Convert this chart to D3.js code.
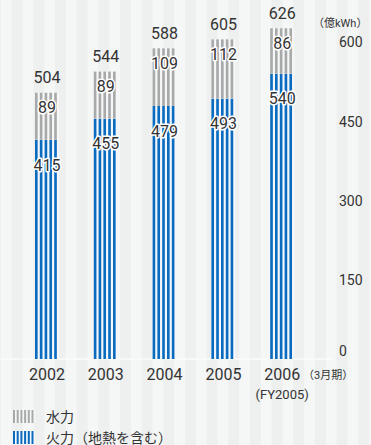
<!DOCTYPE html>
<html>
<head>
<meta charset="utf-8">
<script src="https://cdn.jsdelivr.net/npm/d3@7"></script>
<style>
  html, body { margin: 0; padding: 0; background: #f5f6f6; }
  svg { display: block; }
  text { font-family: Roboto, "Noto Sans CJK JP", sans-serif; fill: #333; }
</style>
</head>
<body>
<svg id="chart" width="371" height="445"></svg>
<script>
// Generated electricity by source, fiscal years (unit: 100 million kWh)
const years = ["2002", "2003", "2004", "2005", "2006"];
const thermal = [415, 455, 479, 493, 540];   // 火力（地熱を含む）
const hydro = [89, 89, 109, 112, 86];        // 水力
const totals = [504, 544, 588, 605, 626];
const yTicks = [0, 150, 300, 450, 600];
const unitLabel = "（億kWh）";
const periodLabel = "（3月期）";
const fyNote = "(FY2005)";
const legendLabels = ["水力", "火力（地熱を含む）"];

const W = 371, H = 445;
const svg = d3.select("#chart");

const BLUE = "#0a6bbf";
const GRAY = "#a7a9aa";

// soft vertical banding in the backdrop
const bandW = 10.83;
const bandStarts = d3.range(11.7 - 2 * bandW, W, 2 * bandW);
svg.append("g").selectAll("rect").data(bandStarts).join("rect")
  .attr("x", d => d).attr("y", 0)
  .attr("width", bandW).attr("height", H)
  .attr("fill", "#eeefef");

const x = d3.scalePoint().domain(years).range([47, 282.2]);
const y = d3.scaleLinear().domain([0, 600]).range([359, 42]);
const barW = 24;
const nStripes = 5;

// baseline
svg.append("line")
  .attr("x1", 0).attr("x2", 333)
  .attr("y1", y(0)).attr("y2", y(0))
  .attr("stroke", "#fbfbfb").attr("stroke-width", 1.5);

// a striped segment between two values
function stripedSegment(g, cx, v0, v1, color, gapColor) {
  const x0 = cx - barW / 2;
  const step = barW / nStripes;
  g.append("rect")
    .attr("x", x0).attr("y", y(v1))
    .attr("width", barW).attr("height", y(v0) - y(v1))
    .attr("fill", gapColor);
  g.selectAll(null).data(d3.range(nStripes)).join("rect")
    .attr("x", i => x0 + i * step)
    .attr("y", y(v1))
    .attr("width", step * 0.55)
    .attr("height", y(v0) - y(v1))
    .attr("fill", color);
}

const bars = svg.append("g");
years.forEach((yr, i) => {
  const g = bars.append("g");
  stripedSegment(g, x(yr), 0, thermal[i], BLUE, "#f4f8fc");
  stripedSegment(g, x(yr), thermal[i], totals[i], GRAY, "#f7f7f7");
});

// value labels with white halo
const labels = svg.append("g")
  .attr("font-size", 16).attr("text-anchor", "middle");
function haloText(tx, ty, str) {
  labels.append("text")
    .attr("x", tx).attr("y", ty).attr("dy", "0.36em")
    .attr("stroke", "#fff").attr("stroke-width", 3)
    .attr("stroke-linejoin", "round")
    .attr("paint-order", "stroke")
    .text(str);
}
years.forEach((yr, i) => {
  haloText(x(yr), y(thermal[i]) + 25, thermal[i]);
  haloText(x(yr), y(totals[i]) + 15, hydro[i]);
  labels.append("text")
    .attr("x", x(yr)).attr("y", y(totals[i]) - 15).attr("dy", "0.36em")
    .text(totals[i]);
});

// y axis on the right
const yAxis = d3.axisRight(y).tickValues(yTicks).tickSize(0).tickPadding(0);
const ya = svg.append("g").attr("transform", "translate(339,0)").call(yAxis);
ya.select(".domain").remove();
ya.selectAll("text")
  .attr("font-size", 14)
  .attr("font-family", "Roboto, sans-serif")
  .attr("fill", "#444")
  .attr("dy", d => d === 0 ? "-0.22em" : "0.34em");

svg.append("text")
  .attr("x", 313).attr("y", 23).attr("dy", "0.36em")
  .attr("font-size", 11).attr("fill", "#555")
  .text(unitLabel);

// x axis labels
const xa = svg.append("g").attr("font-size", 16).attr("text-anchor", "middle");
years.forEach(yr => {
  xa.append("text").attr("x", x(yr)).attr("y", 380).text(yr);
});
svg.append("text")
  .attr("x", x("2006")).attr("y", 399)
  .attr("text-anchor", "middle").attr("font-size", 13)
  .text(fyNote);
svg.append("text")
  .attr("x", 303).attr("y", 375).attr("dy", "0.36em")
  .attr("font-size", 11).attr("fill", "#555")
  .text(periodLabel);

// legend
const legend = svg.append("g");
[[GRAY, "#f7f7f7"], [BLUE, "#f4f8fc"]].forEach(([c, gc], i) => {
  const ly = 410 + i * 21;
  legend.append("rect").attr("x", 13).attr("y", ly)
    .attr("width", 22).attr("height", 13).attr("fill", gc);
  legend.selectAll(null).data(d3.range(6)).join("rect")
    .attr("x", k => 13 + k * 3.7).attr("y", ly)
    .attr("width", 2).attr("height", 13).attr("fill", c);
  legend.append("text")
    .attr("x", 46).attr("y", ly + 6.5).attr("dy", "0.36em")
    .attr("font-size", 14)
    .text(legendLabels[i]);
});
</script>
</body>
</html>
